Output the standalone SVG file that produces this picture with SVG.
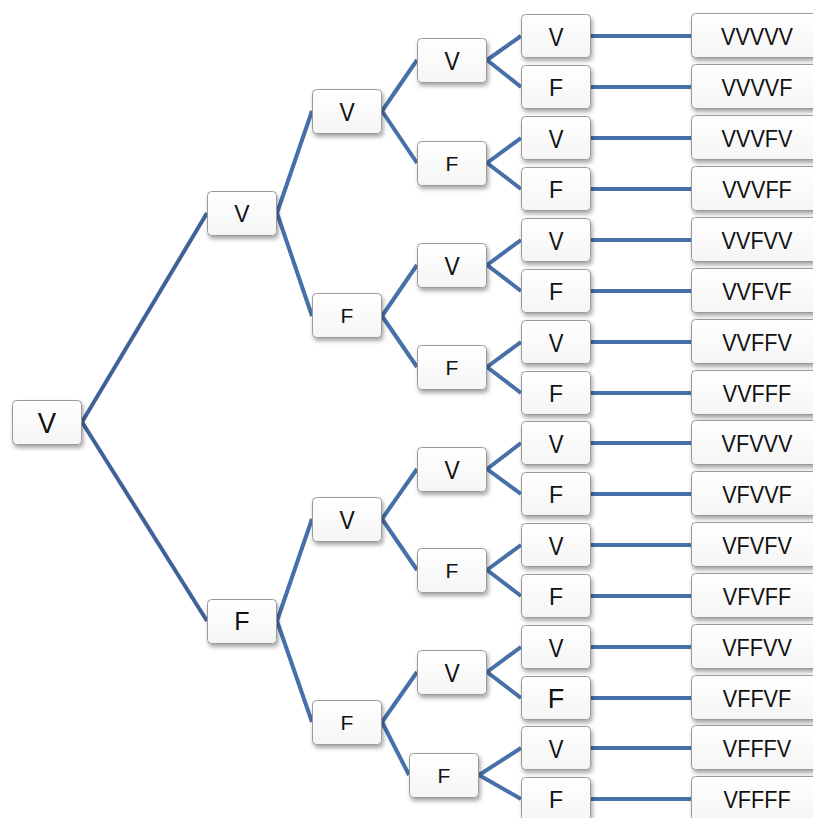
<svg xmlns="http://www.w3.org/2000/svg" width="813" height="818" viewBox="0 0 813 818">
  <defs>
    <linearGradient id="boxFill" x1="0" y1="0" x2="0" y2="1">
      <stop offset="0" stop-color="#ffffff"/>
      <stop offset="1" stop-color="#f5f5f5"/>
    </linearGradient>
    <filter id="shadow" x="-20%" y="-20%" width="150%" height="160%">
      <feDropShadow dx="1.5" dy="3" stdDeviation="2" flood-color="#000" flood-opacity="0.35"/>
    </filter>
  </defs>
  <style>
    .edge { stroke: #4670a8; stroke-width: 4; fill: none; stroke-linecap: butt; }
    .edge.root { stroke: #3f6398; }
    .box { fill: url(#boxFill); stroke: #9a9a9a; stroke-width: 1; filter: url(#shadow); }
    .lbl { font-family: "Liberation Sans", Arial, sans-serif; fill: #111; text-anchor: middle; }
    .v0 { font-size: 29px; }
    .v1 { font-size: 23px; }
    .v { font-size: 26px; }
    .f1 { font-size: 25px; }
    .fs { font-size: 21px; }
    .f { font-size: 23px; }
    .fb { font-size: 27px; }
    .leaf { font-size: 24px; }
  </style>
  <rect width="813" height="818" fill="#ffffff"/>

  <g id="connectors">
    <line class="edge root" x1="82" y1="422" x2="207" y2="213"/>
    <line class="edge root" x1="82" y1="422" x2="207" y2="621"/>
    <line class="edge" x1="277" y1="213" x2="312" y2="111"/>
    <line class="edge" x1="277" y1="213" x2="312" y2="316"/>
    <line class="edge" x1="277" y1="621" x2="312" y2="519"/>
    <line class="edge" x1="277" y1="621" x2="312" y2="722"/>
    <line class="edge" x1="382" y1="111" x2="417" y2="60"/>
    <line class="edge" x1="382" y1="111" x2="417" y2="163"/>
    <line class="edge" x1="382" y1="316" x2="417" y2="265"/>
    <line class="edge" x1="382" y1="316" x2="417" y2="367"/>
    <line class="edge" x1="382" y1="519" x2="417" y2="469"/>
    <line class="edge" x1="382" y1="519" x2="417" y2="570"/>
    <line class="edge" x1="382" y1="722" x2="417" y2="672"/>
    <line class="edge" x1="382" y1="722" x2="409" y2="775"/>
    <line class="edge" x1="487" y1="60" x2="521" y2="36"/>
    <line class="edge" x1="487" y1="60" x2="521" y2="87"/>
    <line class="edge" x1="487" y1="163" x2="521" y2="138"/>
    <line class="edge" x1="487" y1="163" x2="521" y2="189"/>
    <line class="edge" x1="487" y1="265" x2="521" y2="240"/>
    <line class="edge" x1="487" y1="265" x2="521" y2="291"/>
    <line class="edge" x1="487" y1="367" x2="521" y2="342"/>
    <line class="edge" x1="487" y1="367" x2="521" y2="393"/>
    <line class="edge" x1="487" y1="469" x2="521" y2="443"/>
    <line class="edge" x1="487" y1="469" x2="521" y2="494"/>
    <line class="edge" x1="487" y1="570" x2="521" y2="545"/>
    <line class="edge" x1="487" y1="570" x2="521" y2="596"/>
    <line class="edge" x1="487" y1="672" x2="521" y2="647"/>
    <line class="edge" x1="487" y1="672" x2="521" y2="698"/>
    <line class="edge" x1="479" y1="775" x2="521" y2="748"/>
    <line class="edge" x1="479" y1="775" x2="521" y2="799"/>
    <line class="edge" x1="591" y1="36" x2="691" y2="36"/>
    <line class="edge" x1="591" y1="87" x2="691" y2="87"/>
    <line class="edge" x1="591" y1="138" x2="691" y2="138"/>
    <line class="edge" x1="591" y1="189" x2="691" y2="189"/>
    <line class="edge" x1="591" y1="240" x2="691" y2="240"/>
    <line class="edge" x1="591" y1="291" x2="691" y2="291"/>
    <line class="edge" x1="591" y1="342" x2="691" y2="342"/>
    <line class="edge" x1="591" y1="393" x2="691" y2="393"/>
    <line class="edge" x1="591" y1="443" x2="691" y2="443"/>
    <line class="edge" x1="591" y1="494" x2="691" y2="494"/>
    <line class="edge" x1="591" y1="545" x2="691" y2="545"/>
    <line class="edge" x1="591" y1="596" x2="691" y2="596"/>
    <line class="edge" x1="591" y1="647" x2="691" y2="647"/>
    <line class="edge" x1="591" y1="698" x2="691" y2="698"/>
    <line class="edge" x1="591" y1="748" x2="691" y2="748"/>
    <line class="edge" x1="591" y1="799" x2="691" y2="799"/>
  </g>

  <!-- level 0 -->
  <g id="n0"><rect class="box" x="12.5" y="400.5" width="69" height="44" rx="4"/><text class="lbl v0" transform="translate(47 433) scale(.95 1)">V</text></g>

  <!-- level 1 -->
  <g id="n1-V"><rect class="box" x="207.5" y="191.5" width="69" height="44" rx="4"/><text class="lbl v1" x="242" y="222">V</text></g>
  <g id="n1-F"><rect class="box" x="207.5" y="599.5" width="69" height="44" rx="4"/><text class="lbl f1" x="242" y="630">F</text></g>

  <!-- level 2 -->
  <g id="n2-VV"><rect class="box" x="312.5" y="89.5" width="69" height="44" rx="4"/><text class="lbl v" transform="translate(347 120.5) scale(.88 1)">V</text></g>
  <g id="n2-VF"><rect class="box" x="312.5" y="293.5" width="69" height="44" rx="4"/><text class="lbl fs" x="347" y="323">F</text></g>
  <g id="n2-FV"><rect class="box" x="312.5" y="497.5" width="69" height="44" rx="4"/><text class="lbl v" transform="translate(347 528.5) scale(.88 1)">V</text></g>
  <g id="n2-FF"><rect class="box" x="312.5" y="700.5" width="69" height="44" rx="4"/><text class="lbl fs" x="347" y="730">F</text></g>

  <!-- level 3 -->
  <g id="n3-VVV"><rect class="box" x="417.5" y="38.5" width="69" height="44" rx="4"/><text class="lbl v" transform="translate(452 69.5) scale(.88 1)">V</text></g>
  <g id="n3-VVF"><rect class="box" x="417.5" y="141.5" width="69" height="44" rx="4"/><text class="lbl fs" x="452" y="171">F</text></g>
  <g id="n3-VFV"><rect class="box" x="417.5" y="243.5" width="69" height="44" rx="4"/><text class="lbl v" transform="translate(452 274.5) scale(.88 1)">V</text></g>
  <g id="n3-VFF"><rect class="box" x="417.5" y="345.5" width="69" height="44" rx="4"/><text class="lbl fs" x="452" y="375">F</text></g>
  <g id="n3-FVV"><rect class="box" x="417.5" y="447.5" width="69" height="44" rx="4"/><text class="lbl v" transform="translate(452 478.5) scale(.88 1)">V</text></g>
  <g id="n3-FVF"><rect class="box" x="417.5" y="548.5" width="69" height="44" rx="4"/><text class="lbl fs" x="452" y="578">F</text></g>
  <g id="n3-FFV"><rect class="box" x="417.5" y="650.5" width="69" height="44" rx="4"/><text class="lbl v" transform="translate(452 681.5) scale(.88 1)">V</text></g>
  <g id="n3-FFF"><rect class="box" x="409.5" y="753.5" width="69" height="44" rx="4"/><text class="lbl fs" x="444" y="783">F</text></g>

  <!-- level 4 -->
  <g id="n4-01"><rect class="box" x="521.5" y="14.5" width="69" height="43" rx="4"/><text class="lbl v" transform="translate(556 45.5) scale(.85 1)">V</text></g>
  <g id="n4-02"><rect class="box" x="521.5" y="65.5" width="69" height="43" rx="4"/><text class="lbl f" x="556" y="95.5">F</text></g>
  <g id="n4-03"><rect class="box" x="521.5" y="116.5" width="69" height="43" rx="4"/><text class="lbl v" transform="translate(556 147.5) scale(.85 1)">V</text></g>
  <g id="n4-04"><rect class="box" x="521.5" y="167.5" width="69" height="43" rx="4"/><text class="lbl f" x="556" y="197.5">F</text></g>
  <g id="n4-05"><rect class="box" x="521.5" y="218.5" width="69" height="43" rx="4"/><text class="lbl v" transform="translate(556 249.5) scale(.85 1)">V</text></g>
  <g id="n4-06"><rect class="box" x="521.5" y="269.5" width="69" height="43" rx="4"/><text class="lbl f" x="556" y="299.5">F</text></g>
  <g id="n4-07"><rect class="box" x="521.5" y="320.5" width="69" height="43" rx="4"/><text class="lbl v" transform="translate(556 351.5) scale(.85 1)">V</text></g>
  <g id="n4-08"><rect class="box" x="521.5" y="371.5" width="69" height="43" rx="4"/><text class="lbl f" x="556" y="401.5">F</text></g>
  <g id="n4-09"><rect class="box" x="521.5" y="421.5" width="69" height="43" rx="4"/><text class="lbl v" transform="translate(556 452.5) scale(.85 1)">V</text></g>
  <g id="n4-10"><rect class="box" x="521.5" y="472.5" width="69" height="43" rx="4"/><text class="lbl f" x="556" y="502.5">F</text></g>
  <g id="n4-11"><rect class="box" x="521.5" y="523.5" width="69" height="43" rx="4"/><text class="lbl v" transform="translate(556 554.5) scale(.85 1)">V</text></g>
  <g id="n4-12"><rect class="box" x="521.5" y="574.5" width="69" height="43" rx="4"/><text class="lbl f" x="556" y="604.5">F</text></g>
  <g id="n4-13"><rect class="box" x="521.5" y="625.5" width="69" height="43" rx="4"/><text class="lbl v" transform="translate(556 656.5) scale(.85 1)">V</text></g>
  <g id="n4-14"><rect class="box" x="521.5" y="676.5" width="69" height="43" rx="4"/><text class="lbl fb" x="556" y="707.5">F</text></g>
  <g id="n4-15"><rect class="box" x="521.5" y="726.5" width="69" height="43" rx="4"/><text class="lbl v" transform="translate(556 757.5) scale(.85 1)">V</text></g>
  <g id="n4-16"><rect class="box" x="521.5" y="777.5" width="69" height="43" rx="4"/><text class="lbl f" x="556" y="807.5">F</text></g>

  <!-- level 5 (outcomes) -->
  <g id="leaf-01"><rect class="box" x="691.5" y="13.5" width="132" height="44" rx="4"/><text class="lbl leaf" transform="translate(757 44.5) scale(.9 1)">VVVVV</text></g>
  <g id="leaf-02"><rect class="box" x="691.5" y="64.5" width="132" height="44" rx="4"/><text class="lbl leaf" transform="translate(757 95.5) scale(.9 1)">VVVVF</text></g>
  <g id="leaf-03"><rect class="box" x="691.5" y="115.5" width="132" height="44" rx="4"/><text class="lbl leaf" transform="translate(757 146.5) scale(.9 1)">VVVFV</text></g>
  <g id="leaf-04"><rect class="box" x="691.5" y="166.5" width="132" height="44" rx="4"/><text class="lbl leaf" transform="translate(757 197.5) scale(.9 1)">VVVFF</text></g>
  <g id="leaf-05"><rect class="box" x="691.5" y="217.5" width="132" height="44" rx="4"/><text class="lbl leaf" transform="translate(757 248.5) scale(.9 1)">VVFVV</text></g>
  <g id="leaf-06"><rect class="box" x="691.5" y="268.5" width="132" height="44" rx="4"/><text class="lbl leaf" transform="translate(757 299.5) scale(.9 1)">VVFVF</text></g>
  <g id="leaf-07"><rect class="box" x="691.5" y="319.5" width="132" height="44" rx="4"/><text class="lbl leaf" transform="translate(757 350.5) scale(.9 1)">VVFFV</text></g>
  <g id="leaf-08"><rect class="box" x="691.5" y="370.5" width="132" height="44" rx="4"/><text class="lbl leaf" transform="translate(757 401.5) scale(.9 1)">VVFFF</text></g>
  <g id="leaf-09"><rect class="box" x="691.5" y="420.5" width="132" height="44" rx="4"/><text class="lbl leaf" transform="translate(757 451.5) scale(.9 1)">VFVVV</text></g>
  <g id="leaf-10"><rect class="box" x="691.5" y="471.5" width="132" height="44" rx="4"/><text class="lbl leaf" transform="translate(757 502.5) scale(.9 1)">VFVVF</text></g>
  <g id="leaf-11"><rect class="box" x="691.5" y="522.5" width="132" height="44" rx="4"/><text class="lbl leaf" transform="translate(757 553.5) scale(.9 1)">VFVFV</text></g>
  <g id="leaf-12"><rect class="box" x="691.5" y="573.5" width="132" height="44" rx="4"/><text class="lbl leaf" transform="translate(757 604.5) scale(.9 1)">VFVFF</text></g>
  <g id="leaf-13"><rect class="box" x="691.5" y="624.5" width="132" height="44" rx="4"/><text class="lbl leaf" transform="translate(757 655.5) scale(.9 1)">VFFVV</text></g>
  <g id="leaf-14"><rect class="box" x="691.5" y="675.5" width="132" height="44" rx="4"/><text class="lbl leaf" transform="translate(757 706.5) scale(.9 1)">VFFVF</text></g>
  <g id="leaf-15"><rect class="box" x="691.5" y="725.5" width="132" height="44" rx="4"/><text class="lbl leaf" transform="translate(757 756.5) scale(.9 1)">VFFFV</text></g>
  <g id="leaf-16"><rect class="box" x="691.5" y="776.5" width="132" height="44" rx="4"/><text class="lbl leaf" transform="translate(757 807.5) scale(.9 1)">VFFFF</text></g>
</svg>
